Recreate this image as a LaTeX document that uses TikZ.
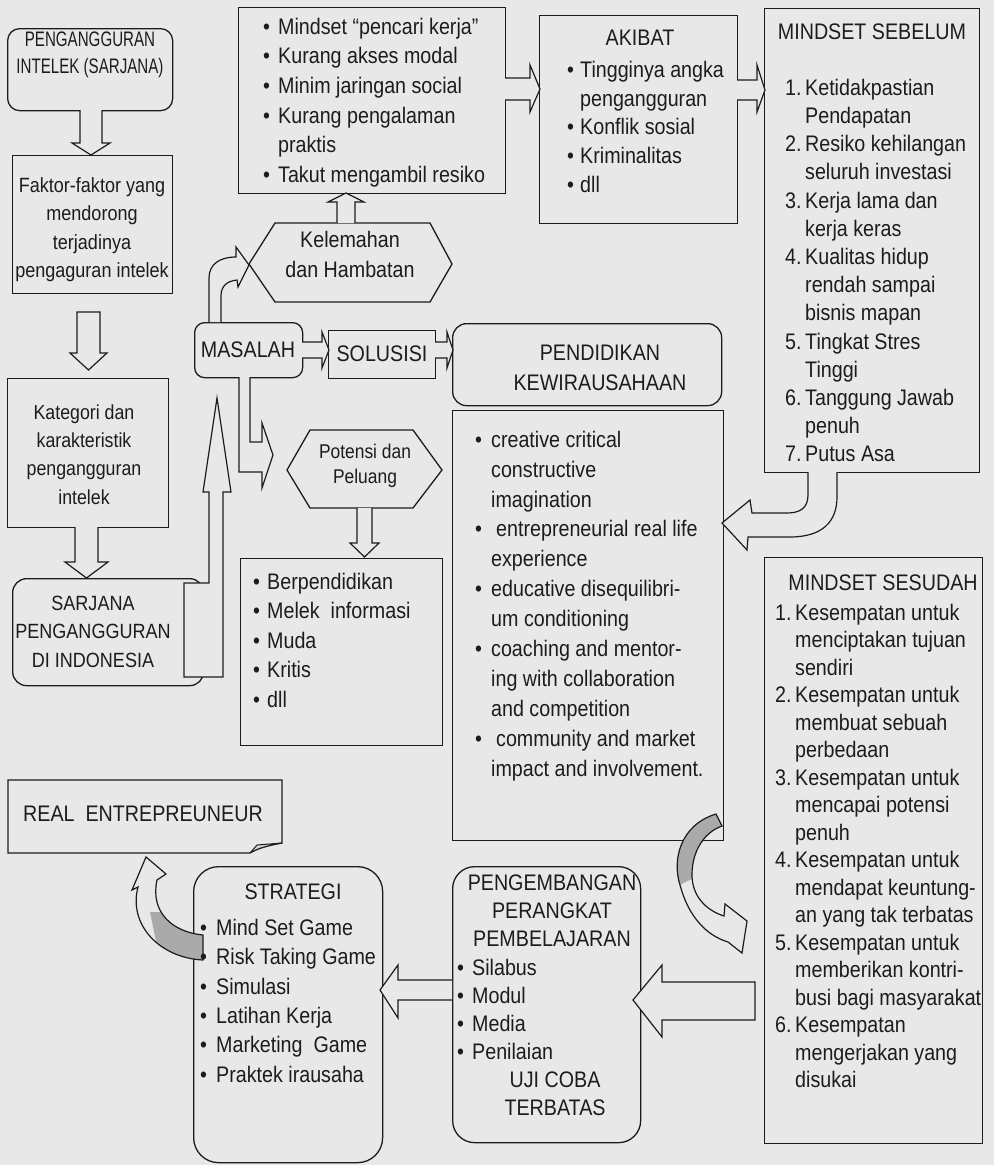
\documentclass[tikz,border=0pt]{standalone}
\usepackage{fontspec}
\setmainfont{Liberation Sans}[FakeStretch=0.875]
\newfontfamily\narrowf{Liberation Sans}[FakeStretch=0.72]
\definecolor{bg}{RGB}{232,232,232}
\definecolor{ink}{RGB}{28,28,28}
\definecolor{shadegray}{RGB}{170,170,170}
\newcommand\bl[1][15pt]{\makebox[#1][l]{\textbullet}}
\newcommand\indn[1][15pt]{\hspace*{#1}}
\newcommand\nlab[2][20pt]{\makebox[#1][l]{#2}}
\newcommand\fsz[2]{\fontsize{#1}{#2}\selectfont}
\begin{document}
\begin{tikzpicture}[x=1pt,y=-1pt,
  box/.style={draw=ink,line width=1.3pt,inner sep=0pt,anchor=north west},
  barrow/.style={draw=ink,line width=1.2pt,fill=bg,line join=miter},
  txt/.style={inner sep=0pt,text=ink,align=left,anchor=north west},
  ctxt/.style={inner sep=0pt,text=ink,align=center,anchor=north},
  one/.style={inner sep=0pt,text=ink,anchor=base},
  mainf/.style={font=\fsz{22.5}{#1}},
]
\fill[bg] (0,0) rectangle (994,1165);
\useasboundingbox (0,0) rectangle (994,1165);

% ---------- boxes ----------
\node[box,rounded corners=12pt,minimum width=165pt,minimum height=82pt] (b1) at (7,28) {};
\node[box,minimum width=160pt,minimum height=138pt] (b2) at (12,155) {};
\node[box,minimum width=161pt,minimum height=149pt] (b3) at (7,378) {};
\node[box,rounded corners=14pt,minimum width=191pt,minimum height=107pt] (b4) at (12,578) {};
\node[box,rounded corners=10pt,minimum width=108pt,minimum height=55pt] (b5) at (194,322) {};
\node[box,minimum width=107pt,minimum height=48pt] (b6) at (328,330) {};
\node[box,rounded corners=14pt,minimum width=269pt,minimum height=82pt] (b7) at (452,323) {};
\node[box,minimum width=271pt,minimum height=430pt] (b8) at (452,410) {};
\node[box,minimum width=215pt,minimum height=464pt] (b9) at (764,8) {};
\node[box,minimum width=218pt,minimum height=586pt] (b10) at (764,557) {};
\node[box,rounded corners=22pt,minimum width=188pt,minimum height=276pt] (b11) at (452,866) {};
\node[box,minimum width=267pt,minimum height=186pt] (b12) at (238,7) {};
\node[box,minimum width=198pt,minimum height=208pt] (b13) at (539,15) {};
\node[box,minimum width=202pt,minimum height=187pt] (b15) at (240,558) {};
\node[box,rounded corners=25pt,minimum width=189pt,minimum height=296pt] (b18) at (193,866) {};

% hexagons
\draw[draw=ink,line width=1.3pt] (249,264) -- (275,223) -- (430,223) -- (452,264) -- (430,302) -- (275,302) -- cycle;
\draw[draw=ink,line width=1.3pt] (287,470) -- (310,430) -- (413,430) -- (442,470) -- (413,508) -- (310,508) -- cycle;

% REAL ENTREPREUNEUR with folded corner
\draw[draw=ink,line width=1.3pt] (8,780) -- (282,780) -- (282,843) .. controls (270,845) and (258,848) .. (250,853) -- (8,853) -- cycle;
\draw[draw=ink,line width=1pt,fill=gray!35] (250,853) -- (257,845) -- (282,843) .. controls (270,845) and (258,848) .. (250,853);

% ---------- block arrows ----------
\draw[barrow] (80,110) -- (80,143) -- (72,143) -- (91,155) -- (110,143) -- (102,143) -- (102,110);
\draw[barrow] (77,312) -- (77,353) -- (70,353) -- (88.5,370) -- (107,353) -- (100,353) -- (100,312) -- cycle;
\draw[barrow] (75,527) -- (75,562) -- (65,562) -- (86.5,578) -- (108,562) -- (98,562) -- (98,527);
\draw[barrow] (184,677) -- (184,583) -- (209,583) -- (209,492) -- (203,492) -- (217,398) -- (231,492) -- (223,492) -- (223,677) -- cycle;
\draw[barrow] (302,342) -- (322,342) -- (322,332) -- (329,350) -- (322,368) -- (322,358) -- (302,358);
\draw[barrow] (435,342) -- (447,342) -- (447,332) -- (453,350) -- (447,368) -- (447,358) -- (435,358);
\draw[barrow] (337,223) -- (337,202) -- (328,202) -- (346,193) -- (364,202) -- (355,202) -- (355,223);
\draw[barrow] (505,78) -- (530,78) -- (530,65) -- (540,89) -- (530,112) -- (530,100) -- (505,100);
\draw[barrow] (737,80) -- (757,80) -- (757,65) -- (765,90) -- (757,112) -- (757,100) -- (737,100);
\draw[barrow] (357,508) -- (357,543) -- (350,543) -- (364.5,557) -- (379,543) -- (372,543) -- (372,508);
\draw[barrow] (209,322) -- (209,278) .. controls (209,264) and (220,257) .. (236,257) -- (236,247) -- (249,265) -- (238,287) -- (237,280) .. controls (227,281) and (221,286) .. (221,296) -- (221,322);
\draw[barrow] (239,377) -- (239,472) -- (262,472) -- (262,488) -- (273,455) -- (262,423) -- (262,442) -- (250,442) -- (250,377);
\draw[barrow] (808,472) -- (808,495) .. controls (808,508) and (800,513) .. (787,513) -- (752,513) -- (750,500) -- (722,523) -- (747,550) -- (748,537) -- (790,537) .. controls (822,537) and (837,522) .. (837,497) -- (837,472);
\draw[barrow] (755,982) -- (662,982) -- (662,965) -- (633,1000) -- (662,1037) -- (662,1020) -- (755,1020) -- cycle;
\draw[barrow] (452,980) -- (398,980) -- (398,965) -- (380,990) -- (398,1018) -- (398,1000) -- (452,1000);

% curved shaded arrow: list -> sesudah side
\fill[bg] (716,814) .. controls (680,825) and (672,860) .. (680,885) .. controls (688,915) and (705,935) .. (728,942) -- (742,953) -- (747,921) -- (725,904) -- (724,916) .. controls (705,910) and (692,895) .. (692,875) .. controls (692,850) and (705,832) .. (722,826) -- cycle;
\begin{scope}
\clip (716,814) .. controls (680,825) and (672,860) .. (680,885) .. controls (688,915) and (705,935) .. (728,942) -- (742,953) -- (747,921) -- (725,904) -- (724,916) .. controls (705,910) and (692,895) .. (692,875) .. controls (692,850) and (705,832) .. (722,826) -- cycle;
\fill[shadegray] (660,800) -- (760,800) -- (760,860) .. controls (720,862) and (700,875) .. (660,895) -- cycle;
\end{scope}
\draw[draw=ink,line width=1.2pt,line join=miter] (716,814) .. controls (680,825) and (672,860) .. (680,885) .. controls (688,915) and (705,935) .. (728,942) -- (742,953) -- (747,921) -- (725,904) -- (724,916) .. controls (705,910) and (692,895) .. (692,875) .. controls (692,850) and (705,832) .. (722,826) -- cycle;

% curved shaded arrow: strategi -> real entrepreneur
\fill[bg] (203,935) .. controls (172,932) and (150,912) .. (157,880) -- (166,874) -- (146,857) -- (132,890) -- (138,887) .. controls (128,925) and (160,958) .. (203,960) -- cycle;
\begin{scope}
\clip (203,935) .. controls (172,932) and (150,912) .. (157,880) -- (166,874) -- (146,857) -- (132,890) -- (138,887) .. controls (128,925) and (160,958) .. (203,960) -- cycle;
\fill[shadegray] (150,912) -- (215,912) -- (215,970) -- (162,970) -- cycle;
\end{scope}
\draw[draw=ink,line width=1.2pt,line join=miter] (203,935) .. controls (172,932) and (150,912) .. (157,880) -- (166,874) -- (146,857) -- (132,890) -- (138,887) .. controls (128,925) and (160,958) .. (203,960) -- cycle;

% ---------- texts ----------
\node[ctxt,font=\narrowf\fsz{21}{27}] (t1) at (90,27.1) {\strut PENGANGGURAN\\INTELEK (SARJANA)};
\node[ctxt,font=\fsz{20.6}{28.5}] (t2) at (92,172.05) {\strut Faktor-faktor yang\\mendorong\\terjadinya\\pengaguran intelek};
\node[ctxt,font=\fsz{20.3}{28.4}] (t3) at (84,399.1) {\strut Kategori dan\\karakteristik\\pengangguran\\intelek};
\node[ctxt,font=\fsz{20.6}{28.5}] (t4) at (93,590) {\strut SARJANA\\PENGANGGURAN\\DI INDONESIA};
\node[one,mainf=26] (t5) at (248,357) {MASALAH};
\node[one,mainf=26] (t6) at (382,361) {SOLUSISI};
\node[ctxt,mainf=30] (t7) at (600,339) {\strut PENDIDIKAN\\KEWIRAUSAHAAN};
\node[ctxt,mainf=30] (t16) at (350,226) {\strut Kelemahan\\dan Hambatan};
\node[ctxt,font=\fsz{19.9}{25}] (t14) at (365,440.5) {\strut Potensi dan\\Peluang};
\node[txt,mainf=29.5] (t15) at (253,568.35) {\strut\bl[14pt]Berpendidikan\\\bl[14pt]Melek\ \ informasi\\\bl[14pt]Muda\\\bl[14pt]Kritis\\\bl[14pt]dll};
\node[txt,mainf=29.6] (t12) at (263,13.28) {\strut\bl Mindset “pencari kerja”\\\bl Kurang akses modal\\\bl Minim jaringan social\\\bl Kurang pengalaman\\\indn praktis\\\bl Takut mengambil resiko};
\node[one,mainf=26] (t13a) at (640,45) {AKIBAT};
\node[txt,mainf=28.8] (t13) at (567,56.84) {\strut\bl[13pt]Tingginya angka\\\indn[13pt]pengangguran\\\bl[13pt]Konflik sosial\\\bl[13pt]Kriminalitas\\\bl[13pt]dll};
\node[one,mainf=26] (t9a) at (872,39) {MINDSET SEBELUM};
\node[txt,mainf=28.2] (t9) at (785,75.26) {\strut\nlab{1.}Ketidakpastian\\\indn[20pt]Pendapatan\\\nlab{2.}Resiko kehilangan\\\indn[20pt]seluruh investasi\\\nlab{3.}Kerja lama dan\\\indn[20pt]kerja keras\\\nlab{4.}Kualitas hidup\\\indn[20pt]rendah sampai\\\indn[20pt]bisnis mapan\\\nlab{5.}Tingkat Stres\\\indn[20pt]Tinggi\\\nlab{6.}Tanggung Jawab\\\indn[20pt]penuh\\\nlab{7.}Putus Asa};
\node[one,mainf=26] (t10a) at (883,590) {MINDSET SESUDAH};
\node[txt,mainf=27.5] (t10) at (775,600.75) {\strut\nlab{1.}Kesempatan untuk\\\indn[20pt]menciptakan tujuan\\\indn[20pt]sendiri\\\nlab{2.}Kesempatan untuk\\\indn[20pt]membuat sebuah\\\indn[20pt]perbedaan\\\nlab{3.}Kesempatan untuk\\\indn[20pt]mencapai potensi\\\indn[20pt]penuh\\\nlab{4.}Kesempatan untuk\\\indn[20pt]mendapat keuntung-\\\indn[20pt]an yang tak terbatas\\\nlab{5.}Kesempatan untuk\\\indn[20pt]memberikan kontri-\\\indn[20pt]busi bagi masyarakat\\\nlab{6.}Kesempatan\\\indn[20pt]mengerjakan yang\\\indn[20pt]disukai};
\node[txt,mainf=29.9] (t8) at (475,426.07) {\strut\bl[16pt]creative critical\\\indn[16pt]constructive\\\indn[16pt]imagination\\\bl[16pt]\hspace{5pt}entrepreneurial real life\\\indn[16pt]experience\\\bl[16pt]educative disequilibri-\\\indn[16pt]um conditioning\\\bl[16pt]coaching and mentor-\\\indn[16pt]ing with collaboration\\\indn[16pt]and competition\\\bl[16pt]\hspace{5pt}community and market\\\indn[16pt]impact and involvement.};
\node[ctxt,mainf=28] (t11a) at (552,870.4) {\strut PENGEMBANGAN\\PERANGKAT\\PEMBELAJARAN};
\node[txt,mainf=28] (t11b) at (457,955.4) {\strut\bl Silabus\\\bl Modul\\\bl Media\\\bl Penilaian};
\node[ctxt,mainf=28] (t11c) at (555,1067.4) {\strut UJI COBA\\TERBATAS};
\node[one,mainf=26,anchor=base west] (t17) at (23,821) {REAL\ \ ENTREPREUNEUR};
\node[one,mainf=26] (t18a) at (293,899) {STRATEGI};
\node[txt,mainf=29.4] (t18) at (200,914.42) {\strut\bl[16pt]Mind Set Game\\\bl[16pt]Risk Taking Game\\\bl[16pt]Simulasi\\\bl[16pt]Latihan Kerja\\\bl[16pt]Marketing\ \ Game\\\bl[16pt]Praktek irausaha};
\end{tikzpicture}
\end{document}
